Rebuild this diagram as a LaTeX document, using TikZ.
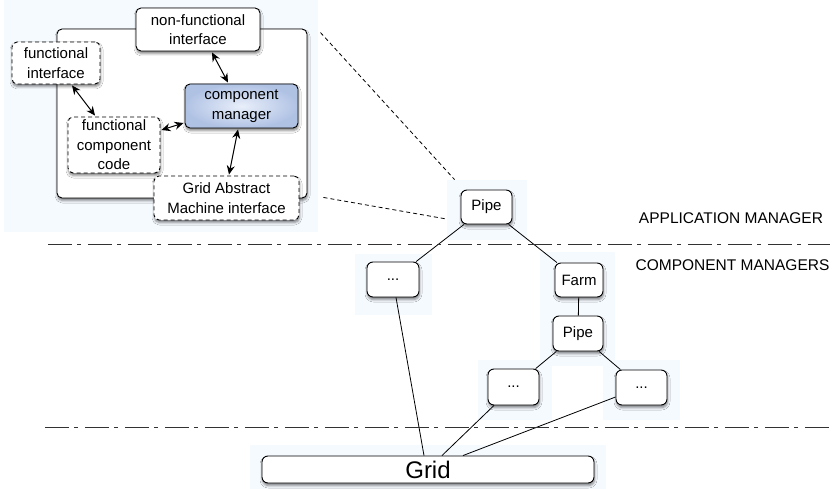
\documentclass[tikz,border=0pt]{standalone}
\usepackage{fontspec}
\setmainfont{Liberation Sans}
\usetikzlibrary{arrows.meta,calc,shadows.blur}
\definecolor{halo}{RGB}{245,250,255}
\definecolor{cmin}{RGB}{233,239,250}
\definecolor{cmout}{RGB}{176,194,228}
\definecolor{sepline}{RGB}{50,50,50}
\begin{document}
\begin{tikzpicture}[x=1pt,y=-1pt,
  every node/.style={font=\fontsize{15}{19.5}\selectfont, align=center, inner sep=0pt},
  box/.style={draw=black, line width=0.9pt, rounded corners=5pt, fill=white,
    blur shadow={shadow xshift=0.5pt, shadow yshift=-2.5pt, shadow blur radius=2.5pt, shadow opacity=50}},
  dbox/.style={box, dash pattern=on 4pt off 3pt},
  cmbox/.style={box, inner color=cmin, outer color=cmout},
  tnode/.style={box, rounded corners=6pt},
  arr/.style={{Stealth[length=9pt,width=8pt]}-{Stealth[length=9pt,width=8pt]}, line width=1pt},
  link/.style={line width=0.8pt},
  zoomline/.style={line width=0.8pt, dash pattern=on 4pt off 3pt},
  sep/.style={draw=sepline, line width=0.9pt, dash pattern=on 24pt off 5pt on 4pt off 7pt},
  lbl/.style={font=\fontsize{15.5}{18}\selectfont}
]
\useasboundingbox (0,0) rectangle (836,489);

% halos
\fill[halo] (4,0) rectangle (318,232);
\fill[halo] (447,180) rectangle (527,240);
\fill[halo] (355,254) rectangle (432,315);
\fill[halo] (540,252) rectangle (615,366);
\fill[halo] (478,360) rectangle (552,420);
\fill[halo] (603,360) rectangle (680,420);
\fill[halo] (250,445) rectangle (606,489);

% component detail
\node[box, minimum width=250pt, minimum height=169pt] (comp) at (182,113.5) {};
\node[box, minimum width=124pt, minimum height=43pt] (nf) at (198,29.5) {non-functional\\interface};
\node[dbox, minimum width=88pt, minimum height=42pt] (fi) at (56,63) {functional\\interface};
\node[cmbox, minimum width=113pt, minimum height=44pt] (cm) at (241.5,106) {component\\manager};
\node[dbox, minimum width=92pt, minimum height=56pt] (fcc) at (114,145) {functional\\component\\code};
\node[dbox, minimum width=145pt, minimum height=44pt] (gam) at (226.5,198) {Grid Abstract\\Machine interface};

\draw[arr] ($(nf.south)+(14,1)$) -- ($(cm.north)+(-13.5,-1)$);
\draw[arr] ($(fi.south)+(16,1)$) -- ($(fcc.north)+(-19,-1)$);
\draw[arr] ($(fcc.east)+(1,-15)$) -- ($(cm.west)+(-1,17)$);
\draw[arr] ($(cm.south)+(-3.5,1)$) -- ($(gam.north)+(2.5,-1)$);

% tree
\node[tnode, minimum width=51pt, minimum height=34pt] (p1) at (486.5,207) {Pipe};
\node[tnode, minimum width=52pt, minimum height=35pt] (d1) at (393,279.5) {...};
\node[tnode, minimum width=48pt, minimum height=34pt] (farm) at (579,280) {Farm};
\node[tnode, minimum width=50pt, minimum height=35pt] (p2) at (578,333.5) {Pipe};
\node[tnode, minimum width=51pt, minimum height=36pt] (d2) at (513.5,387) {...};
\node[tnode, minimum width=51pt, minimum height=35pt] (d3) at (641.5,387.5) {...};
\node[box, rounded corners=6pt, minimum width=332pt, minimum height=27pt, font=\fontsize{24}{26}\selectfont] (grid) at (428,469.5) {Grid};

\draw[link] (p1) -- (d1);
\draw[link] (p1) -- (farm);
\draw[link] (farm) -- (p2);
\draw[link] (p2) -- (d2);
\draw[link] (p2) -- (d3);
\draw[link] ($(d1.south)+(3,0)$) -- ($(grid.north)+(-4,0)$);
\draw[link] ($(d2.south)+(-19.5,0)$) -- ($(grid.north)+(14,0)$);
\draw[link] ($(d3.west)+(0,9.5)$) -- ($(grid.north)+(35,0)$);

% zoom lines
\coordinate (z1a) at ($(comp.north east)+(13,4)$);
\coordinate (z1b) at ($(p1.north west)+(-6,-10)$);
\coordinate (z2a) at ($(comp.south east)+(16,-1)$);
\coordinate (z2b) at ($(p1.west)+(-14,12)$);
\draw[zoomline] (z1a) -- (z1b);
\draw[zoomline] (z2a) -- (z2b);

% separators
\coordinate (s1a) at (48,244);
\coordinate (s1b) at (830,244);
\coordinate (s2a) at (45,427);
\coordinate (s2b) at (830,427);
\draw[sep] (s1a) -- (s1b);
\draw[sep] (s2a) -- (s2b);

\node[lbl] (appl) at (731,218) {APPLICATION MANAGER};
\node[lbl] (compm) at (732.5,265) {COMPONENT MANAGERS};
\end{tikzpicture}
\end{document}
